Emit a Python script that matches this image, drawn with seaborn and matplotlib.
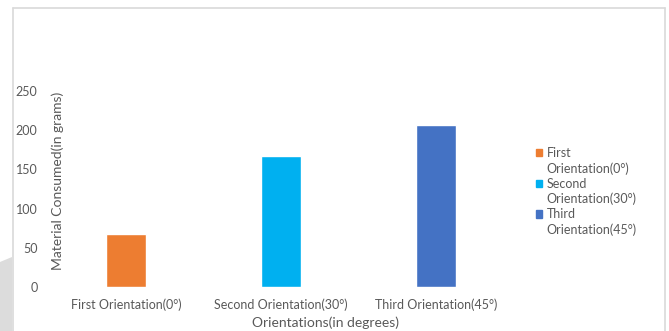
import matplotlib
matplotlib.use("Agg")
import matplotlib.pyplot as plt
import matplotlib.patches as mpatches
from matplotlib.lines import Line2D
import seaborn as sns
import pandas as pd

# Data
categories = ["First Orientation(0°)", "Second Orientation(30°)", "Third Orientation(45°)"]
material_grams = [68, 167, 207]
bar_colors = ["#ED7D31", "#00B0F0", "#4472C4"]
legend_first = ["First", "Second", "Third"]
legend_second = ["Orientation(0°)", "Orientation(30°)", "Orientation(45°)"]
y_ticks = [0, 50, 100, 150, 200, 250]

sns.set_theme(style="white")
plt.rcParams["font.family"] = ["Lato", "DejaVu Sans"]

text_gray = "#595959"

df = pd.DataFrame({"orientation": categories, "grams": material_grams})

fig = plt.figure(figsize=(6.69, 3.31), dpi=100)
ax = fig.add_axes([48.5 / 669, 44 / 331, 465 / 669, 196 / 331])

sns.barplot(data=df, x="orientation", y="grams", hue="orientation",
            palette=bar_colors, width=0.26, legend=False, ax=ax,
            saturation=1)

ax.set_ylim(0, 250)
ax.set_yticks(y_ticks)
ax.set_xlim(-0.5, 2.5)
for side in ["top", "right", "left", "bottom"]:
    ax.spines[side].set_visible(False)
ax.tick_params(axis="both", length=0, labelsize=9, labelcolor=text_gray)
ax.tick_params(axis="y", pad=8)
ax.tick_params(axis="x", pad=8)

ax.set_xlabel("Orientations(in degrees)", fontsize=10, color=text_gray)
ax.xaxis.set_label_coords(0.595, -0.15)
ax.set_ylabel("Material Consumed(in grams)", fontsize=10, color=text_gray)
ax.yaxis.set_label_coords(0.034, 0.54)

# Legend: each entry wraps onto a second line aligned with the first
handles, labels = [], []
for patch, first, second in zip(ax.patches, legend_first, legend_second):
    handles.append(mpatches.Patch(color=patch.get_facecolor()))
    labels.append(first)
    handles.append(mpatches.Patch(color="none"))
    labels.append(second)
leg = fig.legend(handles, labels, loc="upper left",
                 bbox_to_anchor=(535.5 / 669, 1 - 147 / 331),
                 frameon=False, fontsize=9, handlelength=0.52, handleheight=0.52,
                 handletextpad=0.38, labelspacing=0.245, borderpad=0,
                 borderaxespad=0)
for t in leg.get_texts():
    t.set_color(text_gray)

# Chart frame
frame_color = "#D9D9D9"
fx0, fx1, fy = 12.5 / 669, 664.5 / 669, 1 - 7.5 / 331
fig.add_artist(Line2D([fx0, fx0], [0, fy], color=frame_color, lw=1.2, transform=fig.transFigure))
fig.add_artist(Line2D([fx0, fx1], [fy, fy], color=frame_color, lw=1.2, transform=fig.transFigure))
fig.add_artist(Line2D([fx1, fx1], [0, fy], color=frame_color, lw=1.2, transform=fig.transFigure))

# Shaded strip outside the frame
fig.add_artist(mpatches.Polygon([(0, 1 - 262 / 331), (12 / 669, 1 - 257 / 331),
                                 (12 / 669, 0), (0, 0)],
                                closed=True, facecolor="#DCDCDC", edgecolor="none",
                                transform=fig.transFigure))

fig.savefig("out.png", dpi=100)
